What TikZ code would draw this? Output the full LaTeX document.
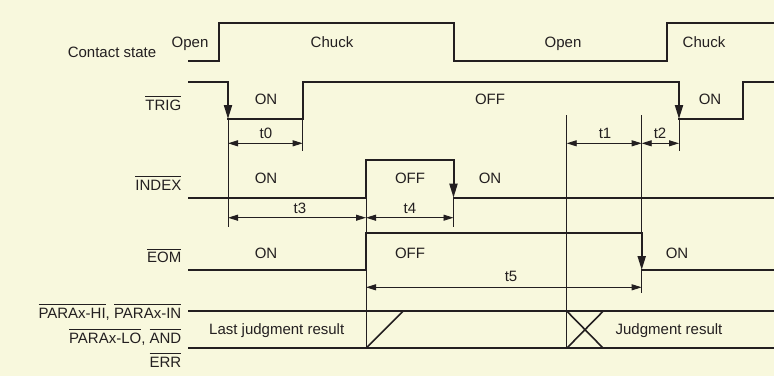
\documentclass[tikz,border=0pt]{standalone}
\usepackage{fontspec}
\setmainfont{Liberation Sans}
\usetikzlibrary{arrows.meta}
\definecolor{bg}{RGB}{248,248,221}
\definecolor{ink}{RGB}{35,31,32}
\newcommand\ovl[1]{\leavevmode\vbox{\hrule height 0.9pt\kern 2.8pt\hbox{#1}}}
\begin{document}
\begin{tikzpicture}[x=1pt,y=-1pt,
  sig/.style={draw=ink,line width=2pt,line cap=rect},
  thinline/.style={draw=ink,line width=0.9pt},
  trans/.style={draw=ink,line width=1.6pt},
  sigarrow/.style={draw=ink,line width=2pt,-{Triangle[length=14pt,width=8pt]}},
  dim/.style={draw=ink,line width=0.9pt,{Triangle[length=10pt,width=6pt]}-{Triangle[length=10pt,width=6pt]}},
  lbl/.style={text=ink,inner sep=0pt,anchor=base,font=\fontsize{15}{18}\selectfont},
  rlbl/.style={lbl,anchor=base east}]
\fill[bg] (0,0) rectangle (774,376);
\useasboundingbox (0,0) rectangle (774,376);

% key times
\def\xs{189}\def\xe{774}
% Contact state
\coordinate (cs0) at (\xs,61);
\draw[sig] (cs0) -- (218.5,61) -- (218.5,23.3) -- (453.5,23.3) -- (453.5,61) -- (667,61) -- (667,23.3) -- (\xe,23.3);

% TRIG
\coordinate (tr1) at (228,81.7);
\coordinate (tr2) at (228,119);
\coordinate (tr3) at (679,81.7);
\coordinate (tr4) at (679,119);
\draw[sig] (\xs,81.7) -- (tr1);
\draw[sigarrow] (tr1) -- (tr2);
\draw[sig] (tr2) -- (302.7,119) -- (302.7,81.7) -- (tr3);
\draw[sigarrow] (tr3) -- (tr4);
\draw[sig] (tr4) -- (743,119) -- (743,81.7) -- (\xe,81.7);

% INDEX
\coordinate (ix1) at (453.5,160);
\coordinate (ix2) at (453.5,197.7);
\draw[sig] (\xs,197.7) -- (366,197.7) -- (366,160) -- (ix1);
\draw[sigarrow] (ix1) -- (ix2);
\draw[sig] (ix2) -- (\xe,197.7);

% EOM
\coordinate (eo1) at (641.7,232.7);
\coordinate (eo2) at (641.7,270);
\draw[sig] (\xs,270) -- (366,270) -- (366,232.7) -- (eo1);
\draw[sigarrow] (eo1) -- (eo2);
\draw[sig] (eo2) -- (\xe,270);

% Bus
\draw[sig] (\xs,311) -- (\xe,311);
\draw[sig] (\xs,348.3) -- (\xe,348.3);
\draw[trans] (366,348.3) -- (403.3,311);
\draw[trans] (566.7,311) -- (603.3,348.3);
\draw[trans] (566.7,348.3) -- (603.3,311);

% extension lines
\draw[thinline] (tr2) -- (228,226.7);
\draw[thinline] (302.7,119) -- (302.7,150.7);
\draw[thinline] (566.7,115) -- (566.7,348.3);
\draw[thinline] (641.7,115) -- (eo1);
\draw[thinline] (eo2) -- (641.7,293);
\draw[thinline] (tr4) -- (679,150.7);
\draw[thinline] (366,197.7) -- (366,232.7);
\draw[thinline] (366,270) -- (366,348.3);
\draw[thinline] (ix2) -- (453.5,226.7);

% dimensions
\draw[dim] (228,143.3) -- (302.7,143.3);
\draw[dim] (566.7,143.3) -- (641.7,143.3);
\draw[dim] (641.7,143.3) -- (679,143.3);
\draw[dim] (228,217.7) -- (366,217.7);
\draw[dim] (366,217.7) -- (453.5,217.7);
\draw[dim] (366,287.3) -- (641.7,287.3);

% labels
\node[lbl] (lcs) at (112,57.3) {Contact state};
\node[lbl] (lo1) at (190,47.3) {Open};
\node[lbl] (lc1) at (332,47.3) {Chuck};
\node[lbl] (lo2) at (563,47.3) {Open};
\node[lbl] (lc2) at (704,47.3) {Chuck};

\node[rlbl] (ltrig) at (181.5,110) {\ovl{TRIG}};
\node[lbl] (ton1) at (266,104) {ON};
\node[lbl] (toff) at (490,104) {OFF};
\node[lbl] (ton2) at (710,104) {ON};

\node[lbl] (lt0) at (266,138.3) {t0};
\node[lbl] (lt1) at (605,138.3) {t1};
\node[lbl] (lt2) at (660,138.3) {t2};

\node[rlbl] (lindex) at (181.5,190) {\ovl{INDEX}};
\node[lbl] (ion1) at (266,183.3) {ON};
\node[lbl] (ioff) at (410,183.3) {OFF};
\node[lbl] (ion2) at (490,183.3) {ON};

\node[lbl] (lt3) at (300,213.3) {t3};
\node[lbl] (lt4) at (410,213.3) {t4};

\node[rlbl] (leom) at (181.5,262.7) {\ovl{EOM}};
\node[lbl] (eon1) at (266,258.3) {ON};
\node[lbl] (eoff) at (410,258.3) {OFF};
\node[lbl] (eon2) at (677,258.3) {ON};

\node[lbl] (lt5) at (511,281.7) {t5};

\node[rlbl] (lp1) at (181.5,318.3) {\ovl{PARAx-HI}, \ovl{PARAx-IN}};
\node[rlbl] (lp2) at (181.5,343.3) {\ovl{PARAx-LO}, \ovl{AND}};
\node[rlbl] (lp3) at (181.5,367.3) {\ovl{ERR}};

\node[lbl] (llast) at (276.7,334) {Last judgment result};
\node[lbl] (ljr) at (669,334) {Judgment result};
\end{tikzpicture}
\end{document}
